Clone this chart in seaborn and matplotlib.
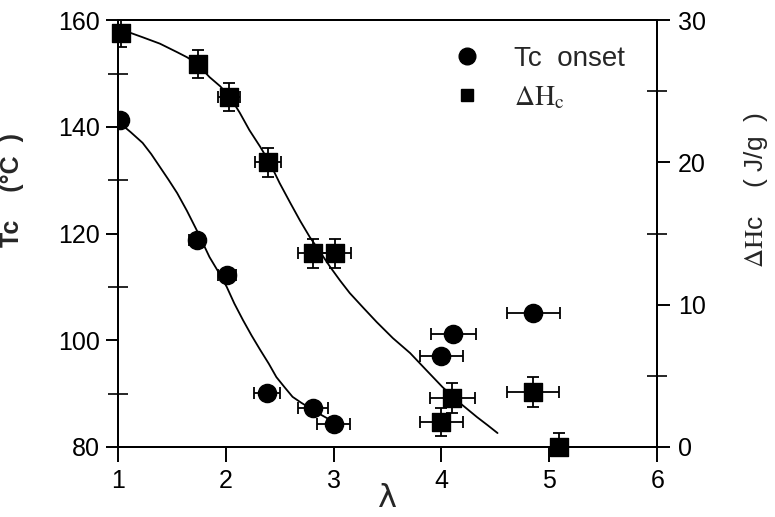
import numpy as np
import pandas as pd
import matplotlib
matplotlib.use("Agg")
import matplotlib.pyplot as plt
import seaborn as sns
from matplotlib.lines import Line2D
from matplotlib.ticker import MultipleLocator

# Tc onset (left axis)
tc_lam = [1.02, 1.73, 2.01, 2.38, 2.81, 3.00, 4.00, 4.11, 4.85]
tc_val = [141.3, 118.8, 112.2, 90.1, 87.3, 84.3, 97.0, 101.2, 105.1]
tc_xerr = [0.0, 0.07, 0.085, 0.12, 0.14, 0.15, 0.20, 0.21, 0.245]

# Delta Hc (right axis)
dh_lam = [1.03, 1.74, 2.03, 2.39, 2.81, 3.01, 4.00, 4.10, 4.85, 5.09]
dh_val = [29.1, 26.9, 24.6, 20.0, 13.6, 13.6, 1.75, 3.44, 3.86, 0.0]
dh_xerr = [0.0, 0.06, 0.10, 0.12, 0.14, 0.15, 0.20, 0.21, 0.24, 0.0]
dh_yerr = [1.0, 1.0, 1.0, 1.05, 1.0, 1.0, 1.0, 1.03, 1.03, 1.0]

# fitted curves
tc_fit_lam = [1.02, 1.12, 1.23, 1.31, 1.39, 1.47, 1.55, 1.64, 1.73, 1.85, 1.93, 2.01, 2.08, 2.16,
              2.24, 2.32, 2.40, 2.47, 2.55, 2.62, 2.70, 2.78, 2.86, 2.94, 3.03]
tc_fit_val = [140.7, 139.0, 137.0, 134.9, 132.5, 130.1, 127.6, 124.3, 120.7, 115.6, 112.9, 110.0,
              106.9, 103.8, 100.9, 98.2, 95.6, 93.1, 91.1, 89.4, 88.3, 87.3, 86.3, 85.4, 84.5]
dh_fit_lam = [1.02, 1.12, 1.23, 1.39, 1.55, 1.64, 1.73, 1.85, 1.95, 2.04, 2.13, 2.22, 2.32, 2.41,
              2.50, 2.60, 2.69, 2.78, 2.88, 2.97, 3.06, 3.15, 3.28, 3.40, 3.55, 3.71, 3.86,
              4.01, 4.17, 4.33, 4.43, 4.52]
dh_fit_val = [29.3, 29.1, 28.8, 28.35, 27.75, 27.4, 26.98, 26.0, 25.35, 24.59, 23.5, 22.27, 21.1,
              19.95, 18.55, 17.14, 15.9, 14.75, 13.65, 12.64, 11.7, 10.82, 9.75, 8.78, 7.65, 6.60,
              5.4, 4.21, 3.1, 2.10, 1.52, 0.98]

sns.set_theme(style="ticks")
plt.rcParams['font.family'] = ['Liberation Sans', 'DejaVu Sans']
plt.rcParams['mathtext.fontset'] = 'stix'

fig = plt.figure(figsize=(7.75, 5.17), dpi=100)
ax = fig.add_axes([0.152, 0.1354, 0.696, 0.8256])
ax2 = ax.twinx()

tc_df = pd.DataFrame({'lam': tc_lam, 'Tc': tc_val})
dh_df = pd.DataFrame({'lam': dh_lam, 'dH': dh_val})

sns.lineplot(x=tc_fit_lam, y=tc_fit_val, ax=ax, color='black', lw=1.3, sort=False)
sns.lineplot(x=dh_fit_lam, y=dh_fit_val, ax=ax2, color='black', lw=1.3, sort=False)

ax.errorbar(tc_lam, tc_val, xerr=tc_xerr, fmt='none', ecolor='black', elinewidth=1.3, capsize=4, capthick=1.3)
ax2.errorbar(dh_lam, dh_val, xerr=dh_xerr, yerr=dh_yerr, fmt='none', ecolor='black', elinewidth=1.3, capsize=4, capthick=1.3)

sns.scatterplot(data=tc_df, x='lam', y='Tc', ax=ax, marker='o', s=170, color='black', edgecolor='black', zorder=5)
sns.scatterplot(data=dh_df, x='lam', y='dH', ax=ax2, marker='s', s=150, color='black', edgecolor='black', zorder=5, clip_on=False)

ax.set_xlim(1, 6)
ax.set_ylim(80, 160)
ax2.set_ylim(0, 30)

ax.xaxis.set_major_locator(MultipleLocator(1))
ax.yaxis.set_major_locator(MultipleLocator(20))
ax.yaxis.set_minor_locator(MultipleLocator(10))
ax2.yaxis.set_major_locator(MultipleLocator(10))
ax2.yaxis.set_minor_locator(MultipleLocator(5))

for a in (ax, ax2):
    for s in a.spines.values():
        s.set_linewidth(1.4)
        s.set_color('black')
ax.tick_params(axis='x', which='major', direction='out', length=11, width=1.4, labelsize=18, colors='black', pad=5)
ax.tick_params(axis='y', which='major', direction='out', length=9, width=1.4, labelsize=18, colors='black', pad=4)
ax.tick_params(axis='y', which='minor', direction='inout', length=15, width=1.4)
ax2.tick_params(axis='y', which='major', direction='out', length=9, width=1.4, labelsize=18, colors='black', pad=6)
ax2.tick_params(axis='y', which='minor', direction='inout', length=15, width=1.4)

ax.set_xlabel('λ', fontsize=23, labelpad=-7, family=['DejaVu Sans'])
ax.set_ylabel('Tc    (°C  )', fontsize=18, fontweight='bold')
ax.yaxis.set_label_coords(-0.173, 0.602)
ax2.set_ylabel(r'$\Delta\mathrm{H}$c    ( J/g  )', fontsize=19)
ax2.yaxis.set_label_coords(1.158, 0.602)

handles = [
    Line2D([], [], marker='o', ls='none', color='black', markersize=12),
    Line2D([], [], marker='s', ls='none', color='black', markersize=9),
]
labels = ['Tc  onset', r'$\Delta\mathrm{H}_{\mathrm{c}}$']
ax2.legend(handles, labels, loc='upper left', bbox_to_anchor=(0.549, 0.998), frameon=False,
           fontsize=20, handlelength=2.0, handletextpad=0.7, labelspacing=0.45, borderpad=0.4)

fig.savefig('out.png', dpi=100)
